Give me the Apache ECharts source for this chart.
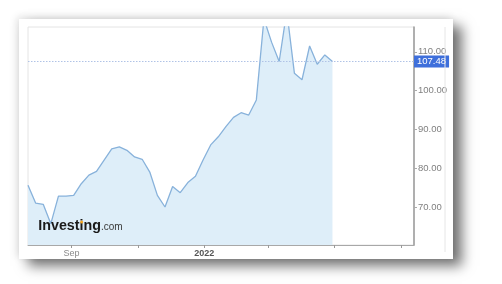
<!DOCTYPE html>
<html><head><meta charset="utf-8">
<script src="https://cdn.jsdelivr.net/npm/echarts@6/dist/echarts.min.js"></script>
<style>
html,body{margin:0;padding:0;background:#fff;}
#wrap{position:relative;width:502px;height:284px;overflow:hidden;background:#fff;}
#card{position:absolute;left:19px;top:19px;width:434px;height:240px;background:#fff;box-shadow:9px 7px 12px rgba(0,0,0,0.55),-2px -2px 8px rgba(0,0,0,0.12);}
#chart{position:absolute;left:0;top:0;width:502px;height:284px;}
</style></head>
<body><div id="wrap"><div id="card"></div><div id="chart"></div></div>
<script>
// ---- data (weekly closes) ----
const dates = [
  '2021-07-23','2021-07-30','2021-08-06','2021-08-13','2021-08-20','2021-08-27',
  '2021-09-03','2021-09-10','2021-09-17','2021-09-24','2021-10-01','2021-10-08',
  '2021-10-15','2021-10-22','2021-10-29','2021-11-05','2021-11-12','2021-11-19',
  '2021-11-26','2021-12-03','2021-12-10','2021-12-17','2021-12-24','2021-12-31',
  '2022-01-07','2022-01-14','2022-01-21','2022-01-28','2022-02-04','2022-02-11',
  '2022-02-18','2022-02-25','2022-03-04','2022-03-11','2022-03-18','2022-03-25',
  '2022-04-01','2022-04-08','2022-04-15','2022-04-22','2022-04-29'
];
const prices = [
  75.6, 71.0, 70.7, 65.7, 72.8, 72.8,
  73.0, 76.0, 78.2, 79.2, 82.1, 85.0,
  85.5, 84.6, 82.9, 82.3, 79.0, 73.0,
  70.0, 75.3, 73.7, 76.3, 77.9, 82.1,
  86.0, 88.1, 90.7, 93.1, 94.3, 93.7,
  97.6, 118.5, 112.5, 107.5, 120.5, 104.5,
  102.8, 111.5, 106.8, 109.2, 107.48
];
const lastPrice = 107.48;
const yTicks = [70, 80, 90, 100, 110];
const xTickDates = ['2021-09-01','2021-11-01','2022-01-01','2022-03-01','2022-05-01','2022-07-01'];
const xLabelDates = ['2021-09-01','2022-01-01'];
const xLabelText = ['Sep','2022'];
const xMinDate = '2021-07-23';
const xMaxDate = '2022-07-13';
const yMin = 60.2, yMax = 116.4;

function ts(s){const p=s.split('-').map(Number);return Date.UTC(p[0],p[1]-1,p[2]);}

const chart = echarts.init(document.getElementById('chart'), null, {renderer:'canvas'});
const labelTs = xLabelDates.map(ts);
chart.setOption({
  animation:false,
  backgroundColor:'transparent',
  grid:{left:28,right:88,top:27,bottom:39,show:true,borderColor:'#e4e4e4',borderWidth:1,backgroundColor:'transparent'},
  xAxis:{
    type:'value', min:ts(xMinDate), max:ts(xMaxDate),
    splitLine:{show:false},
    axisLine:{show:true,onZero:false,lineStyle:{color:'#a8a8a8',width:1}},
    axisTick:{show:true,length:3,customValues:xTickDates.map(ts),lineStyle:{color:'#999'}},
    axisLabel:{
      customValues:labelTs,
      formatter:function(v){const i=labelTs.indexOf(v);if(i<0)return '';return i===1?'{b|'+xLabelText[i]+'}':'{a|'+xLabelText[i]+'}';},
      margin:4,
      rich:{a:{color:'#8a8a8a',fontSize:9,fontFamily:'Liberation Sans'},b:{color:'#555',fontSize:9,fontWeight:'bold',fontFamily:'Liberation Sans'}}
    }
  },
  yAxis:{
    type:'value', position:'right', min:yMin, max:yMax,
    splitLine:{show:false},
    axisLine:{show:true,lineStyle:{color:'#9a9a9a',width:1.5}},
    axisTick:{show:true,length:3,customValues:yTicks,lineStyle:{color:'#aaa'}},
    axisLabel:{customValues:yTicks,formatter:function(v){return Number(v).toFixed(2);},color:'#808080',fontSize:9.5,margin:4,fontFamily:'Liberation Sans'}
  },
  series:[{
    type:'line',
    data:dates.map(function(d,i){return [ts(d),prices[i]];}),
    symbol:'none', showSymbol:false,
    lineStyle:{color:'#88b2db',width:1.3},
    areaStyle:{color:'#deeef9',opacity:1},
    markLine:{
      silent:true, symbol:'none', animation:false,
      data:[{yAxis:lastPrice}],
      lineStyle:{color:'#b0c3e6',type:[1.5,1.5],width:1},
      label:{position:'end',formatter:function(){return lastPrice.toFixed(2);},color:'#fff',backgroundColor:'#3e6fdb',padding:[1,3,1,3],fontSize:9.5,distance:0,fontFamily:'Liberation Sans'}
    }
  }],
  graphic:{elements:[
    {type:'line',z:100,shape:{x1:445,y1:27,x2:445,y2:252},style:{stroke:'#e6e6e6',lineWidth:1},silent:true},
    {type:'text',z:100,x:38.3,y:226.2,scaleX:1.02,style:{text:'Investing',font:'bold 14px "Liberation Sans", Arial, sans-serif',fill:'#1a1a1a',verticalAlign:'middle'},silent:true},
    {type:'text',z:100,x:101,y:227.5,style:{text:'.com',font:'10px "Liberation Sans", Arial, sans-serif',fill:'#3a3a3a',verticalAlign:'middle'},silent:true},
    {type:'circle',z:101,shape:{cx:81.6,cy:222,r:1.5},style:{fill:'#f5a623'},silent:true}
  ]}
});
</script>
</body></html>
